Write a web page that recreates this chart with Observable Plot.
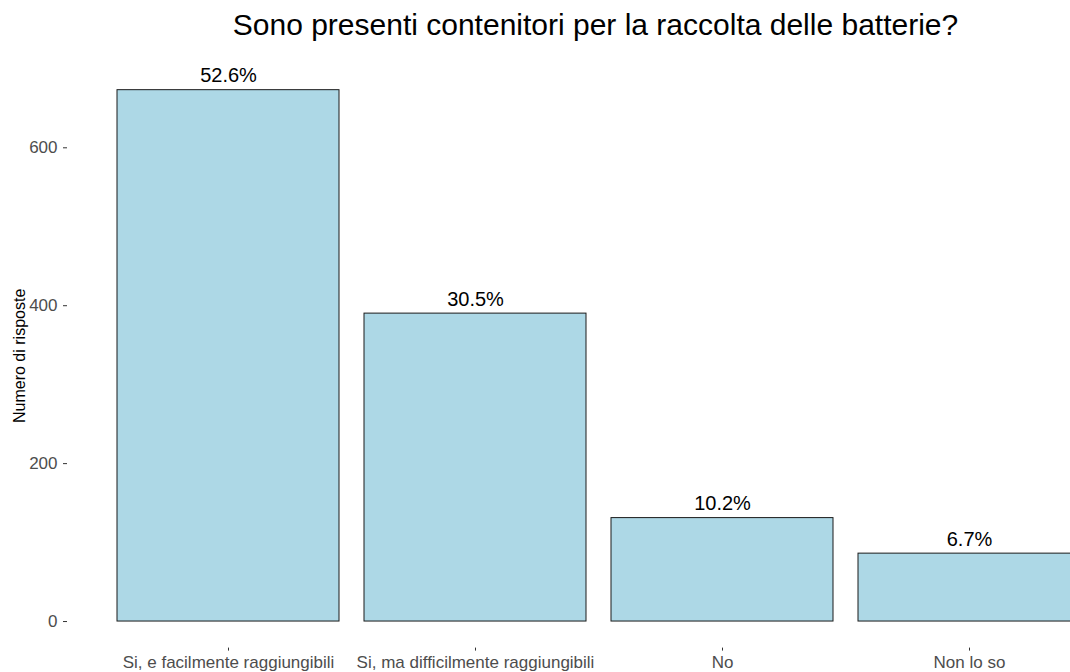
<!DOCTYPE html>
<html><head><meta charset="utf-8">
<script src="https://cdn.jsdelivr.net/npm/d3@7"></script>
<script src="https://cdn.jsdelivr.net/npm/@observablehq/plot@0.6"></script>
<style>
html,body{margin:0;padding:0;background:#fff;overflow:hidden;}
#title{width:1191px;height:50px;box-sizing:border-box;padding-top:10px;font:30px/1 "Liberation Sans",Arial,sans-serif;text-align:center;color:#000;white-space:nowrap;}
#chart svg{display:block;}
</style></head><body>
<div id="title"></div>
<div id="chart"></div>
<script>
const titleText = "Sono presenti contenitori per la raccolta delle batterie?";
const yTitle = "Numero di risposte";
const categories = ["Si, e facilmente raggiungibili", "Si, ma difficilmente raggiungibili", "No", "Non lo so"];
const counts = [673, 390, 131, 86];
const yTicks = [0, 200, 400, 600];

document.getElementById("title").textContent = titleText;
const total = d3.sum(counts);
const data = categories.map((c, i) => ({cat: c, n: counts[i], lab: (counts[i] / total * 100).toFixed(1) + "%"}));
const ymax = d3.max(counts);

const chart = Plot.plot({
  width: 1070, height: 622,
  marginTop: 13.1, marginBottom: 24.4, marginLeft: 67, marginRight: 0,
  style: {fontFamily: '"Liberation Sans", Arial, sans-serif', background: "#fff"},
  x: {domain: categories, range: [78, 1119], paddingInner: 0.1, paddingOuter: 0.15, axis: null},
  y: {domain: [-0.05 * ymax, 1.05 * ymax], axis: null},
  marks: [
    Plot.barY(data, {x: "cat", y: "n", fill: "#ADD8E6", stroke: "#1a1a1a", strokeWidth: 1}),
    Plot.text(data, {x: "cat", y: "n", text: "lab", lineAnchor: "bottom", dy: -8, fontSize: 20, fill: "#000"}),
    Plot.axisY({ticks: yTicks, tickSize: 4, tickPadding: 6, fontSize: 17, stroke: "#333", fill: "#4d4d4d", label: null, tickFormat: d => String(d)}),
    Plot.axisX({tickSize: 3, tickPadding: 5, fontSize: 17, stroke: "#333", fill: "#4d4d4d", label: null}),
    Plot.text([yTitle], {frameAnchor: "left", textAnchor: "middle", rotate: -90, dx: -43, lineAnchor: "bottom", fontSize: 16, fill: "#000"})
  ]
});
document.getElementById("chart").appendChild(chart);
</script>
</body></html>
